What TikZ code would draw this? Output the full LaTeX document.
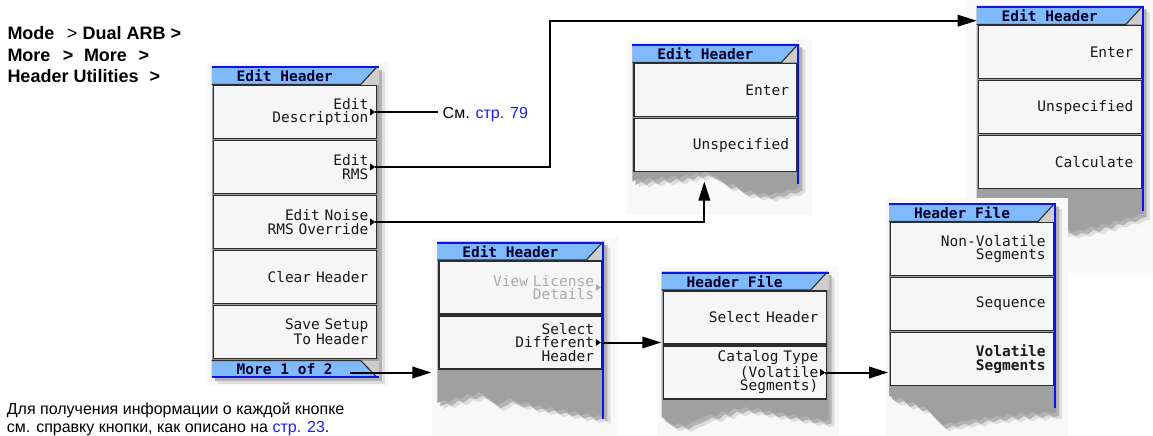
\documentclass[tikz,border=0pt]{standalone}
\usepackage{fontspec}
\setmainfont{Liberation Sans}
\newfontfamily\monof{DejaVu Sans Mono}
\usetikzlibrary{arrows.meta}
\definecolor{hdrblue}{RGB}{128,186,250}
\definecolor{hdrline}{RGB}{10,20,235}
\definecolor{hdrtextc}{RGB}{0,0,45}
\definecolor{btnfill}{RGB}{246,246,246}
\definecolor{btnedge}{RGB}{45,45,45}
\definecolor{btntext}{RGB}{25,25,25}
\definecolor{panelgrey}{RGB}{160,160,160}
\definecolor{tabgrey}{RGB}{205,205,205}
\definecolor{shadowA}{RGB}{222,222,222}
\definecolor{shadowB}{RGB}{178,178,178}
\definecolor{linkblue}{RGB}{30,30,235}
\definecolor{imgbg}{RGB}{248,248,248}
\definecolor{dimtext}{RGB}{170,170,170}

\newcommand\MW{167}
\newcommand\tornshape[3]{\fill[#1] (0,0) -- (0,#2) foreach \a/\b in {#3} { -- (\a,#2+\b) } -- (\MW,#2) -- (\MW,0) -- cycle;}
\newcommand\tornpanel[2]{%
  \tornshape{shadowA,shift={(6,6)}}{#1}{#2}
  \tornshape{shadowB,shift={(3,3.5)}}{#1}{#2}
  \tornshape{panelgrey}{#1}{#2}}
\newcommand\phead[2]{%
  \fill[tabgrey] (0,0) rectangle (\MW,18.5);
  \fill[hdrblue] (0,0) -- (\MW-1,0) -- (\MW-18,18.5) -- (0,18.5) -- cycle;
  \draw[btnedge,line width=1.1] (0,18.5) -- (\MW-18,18.5) -- (\MW-1.5,0.5);
  \draw[hdrline,line width=2] (0,1) -- (\MW,1);
  \node[hdrtext] (#1) at (73,10) {#2};}
\newcommand\pbtn[4][]{\node[btn,#1] (#2) at (83.2,46+55*#3) {#4};}
\newcommand\ptri[3][black]{%
  \fill[#1] (\MW-8.5,46+55*#3-3.5) -- (\MW-3.5,46+55*#3) -- (\MW-8.5,46+55*#3+3.5) -- cycle;
  \coordinate (#2) at (\MW-3.5,46+55*#3);}

\tikzset{
  btn/.style={draw=btnedge, line width=1.2, fill=btnfill, minimum width=163, minimum height=53,
    inner sep=0, text width=147, align=right, text=btntext,
    font=\monof\fontsize{14.5}{13.8}\selectfont},
  hdrtext/.style={font=\monof\bfseries\fontsize{14.5}{14}\selectfont, text=hdrtextc, inner sep=0},
  conn/.style={line width=2, black},
  arrow/.style={conn, -{Triangle[length=19pt,width=11.5pt]}},
  navtext/.style={anchor=base west, inner sep=0, font=\bfseries\fontsize{18}{21}\selectfont},
  notetext/.style={anchor=base west, inner sep=0, font=\fontsize{16}{18}\selectfont}
}

\begin{document}
\begin{tikzpicture}[x=1pt,y=-1pt]
\useasboundingbox (0,0) rectangle (1153,436);

% ---------- left menu ----------
\begin{scope}[shift={(211.7,66)}]
  \fill[imgbg] (-5,-5) rectangle (177,321);
  \fill[shadowA] (6,6) rectangle (\MW+6,317.5);
  \fill[shadowB] (3,3.5) rectangle (\MW+3,315);
  \fill[panelgrey] (0,0) rectangle (\MW,311.5);
  \phead{Lh}{Edit Header}
  \pbtn{L1}{0}{Edit\\Description}
  \pbtn{L2}{1}{Edit\\RMS}
  \pbtn{L3}{2}{Edit Noise\\RMS Override}
  \pbtn{L4}{3}{Clear Header}
  \pbtn{L5}{4}{Save Setup\\To Header}
  \ptri{L1t}{0}
  \ptri{L2t}{1}
  \ptri{L3t}{2}
  \fill[tabgrey] (0,294.5) rectangle (\MW,311.5);
  \fill[hdrblue] (0,294.5) -- (\MW-18,294.5) -- (\MW-2,311.5) -- (0,311.5) -- cycle;
  \draw[btnedge,line width=1.1] (0,294.5) -- (\MW-18,294.5) -- (\MW-2,311);
  \draw[hdrline,line width=2] (0,310.5) -- (\MW,310.5);
  \node[hdrtext] (Lmore) at (73,303) {More 1 of 2};
  \coordinate (Lmoreout) at (138.5,306.5);
\end{scope}

% ---------- top middle menu ----------
\begin{scope}[shift={(632.3,44)}]
  \fill[imgbg] (-5,-5) rectangle (180,171);
  \tornpanel{127.5}{0/10,6/7,11/10,17/6,23/9,29/5,35/8,41/4,47/7,53/3,58/5,63/1,68/3,73/0,79/3,85/6,91/10,96/14,101/12,107/17,113/21,119/19,125/23,131/21,137/24,143/21,149/22,155/18,161/19,167/15}
  \phead{TMh}{Edit Header}
  \pbtn{TM1}{0}{Enter}
  \pbtn{TM2}{1}{Unspecified}
  \draw[hdrline,line width=2.2] (\MW-1,0) -- (\MW-1,140);
  \coordinate (TMin) at (72,137.5);
\end{scope}

% ---------- top right menu ----------
\begin{scope}[shift={(976.7,6)}]
  \fill[imgbg] (-11,-6) rectangle (176.3,267);
  \tornpanel{182.5}{0/30,6/27,12/31,18/28,24/33,30/30,36/36,42/33,48/38,54/35,60/40,66/37,72/42,78/39,84/43,90/41,96/44,102/41,108/42,114/38,120/40,126/35,132/37,138/32,144/33,150/29,156/30,162/26,167/25}
  \phead{TRh}{Edit Header}
  \pbtn{TR1}{0}{Enter}
  \pbtn{TR2}{1}{Unspecified}
  \pbtn{TR3}{2}{Calculate}
  \draw[hdrline,line width=2.2] (\MW-1,0) -- (\MW-1,205);
  \coordinate (TRin) at (0,14.7);
\end{scope}

% ---------- middle bottom menu ----------
\begin{scope}[shift={(437.3,241.5)}]
  \fill[imgbg] (-5,-5) rectangle (181,194.5);
  \tornpanel{127.5}{0/34,6/31,12/33,18/28,24/30,30/25,36/27,42/23,48/27,54/31,60/36,66/33,72/29,78/32,84/35,90/33,96/38,102/36,108/40,114/38,120/42,126/40,132/44,138/42,144/46,150/44,156/48,162/46,167/49}
  \phead{MBh}{Edit Header}
  \pbtn[text=dimtext]{MB1}{0}{View License\\Details}
  \pbtn{MB2}{1}{Select\\Different\\Header}
  \ptri[dimtext]{MBt1}{0}
  \ptri{MBt2}{1}
  \draw[hdrline,line width=2.2] (\MW-1,0) -- (\MW-1,177);
\end{scope}

% ---------- middle header file menu ----------
\begin{scope}[shift={(661.7,271.5)}]
  \fill[imgbg] (-5,-5) rectangle (177,164.5);
  \tornpanel{127.5}{0/18,6/22,12/26,18/24,24/27,30/23,36/21,42/18,48/15,54/17,60/12,66/14,72/9,78/11,84/8,90/11,96/9,102/13,108/11,114/15,120/13,126/17,132/15,138/19,144/17,150/21,156/19,162/22,167/21}
  \phead{MHh}{Header File}
  \pbtn{MH1}{0}{Select Header}
  \pbtn{MH2}{1}{Catalog Type\\(Volatile\\Segments)}
  \ptri{MHt2}{1}
\end{scope}

% ---------- bottom right header file menu ----------
\begin{scope}[shift={(889,203)}]
  \fill[imgbg] (-4,-5) rectangle (179,233);
  \tornpanel{182.5}{0/10,6/14,12/12,18/18,24/16,30/22,36/21,42/28,48/34,54/40,60/37,66/38,72/35,78/36,84/33,90/35,96/31,102/33,108/30,114/32,120/28,126/31,132/27,138/30,144/26,150/29,156/26,162/28,167/27}
  \phead{BRh}{Header File}
  \pbtn{BR1}{0}{Non-Volatile\\Segments}
  \pbtn{BR2}{1}{Sequence}
  \pbtn[font=\monof\bfseries\fontsize{14.5}{13.8}\selectfont]{BR3}{2}{Volatile\\Segments}
  \draw[hdrline,line width=2.2] (\MW-1,0) -- (\MW-1,205);
\end{scope}

% ---------- texts ----------
\node[navtext] (nav1) at (7.3,39.3) {Mode\hspace{12.4pt}\mdseries>\bfseries\hspace{5.3pt}Dual ARB >};
\node[navtext] (nav2) at (7.3,61.2) {More\hspace{12.5pt}>\hspace{10.5pt}More\hspace{11.5pt}>};
\node[navtext] (nav3) at (7.3,82.6) {Header Utilities\hspace{11pt}>};
\node[notetext] (note1) at (6.7,414) {Для получения информации о каждой кнопке};
\node[notetext] (note2) at (6.7,432.3) {см. справку кнопки, как описано на \textcolor{linkblue}{стр. 23}.};
\node[notetext, inner sep=2pt] (see) at (440.5,118.3) {См. \textcolor{linkblue}{стр. 79}};
\coordinate (rmsx) at (550,0);

% ---------- connectors ----------
\draw[conn, shorten >=2.5pt] (L1t) -- (L1t -| see.west);
\draw[arrow] (L2t) -| (rmsx |- TRin) -- (TRin);
\draw[arrow] (L3t) -| (TMin);
\draw[arrow, shorten >=7pt] (Lmoreout) -- (Lmoreout -| MB2.west);
\draw[arrow, shorten >=1.5pt] (MBt2) -- (MBt2 -| MH1.west);
\draw[arrow, shorten >=2pt] (MHt2) -- (MHt2 -| BR3.west);
\end{tikzpicture}
\end{document}
